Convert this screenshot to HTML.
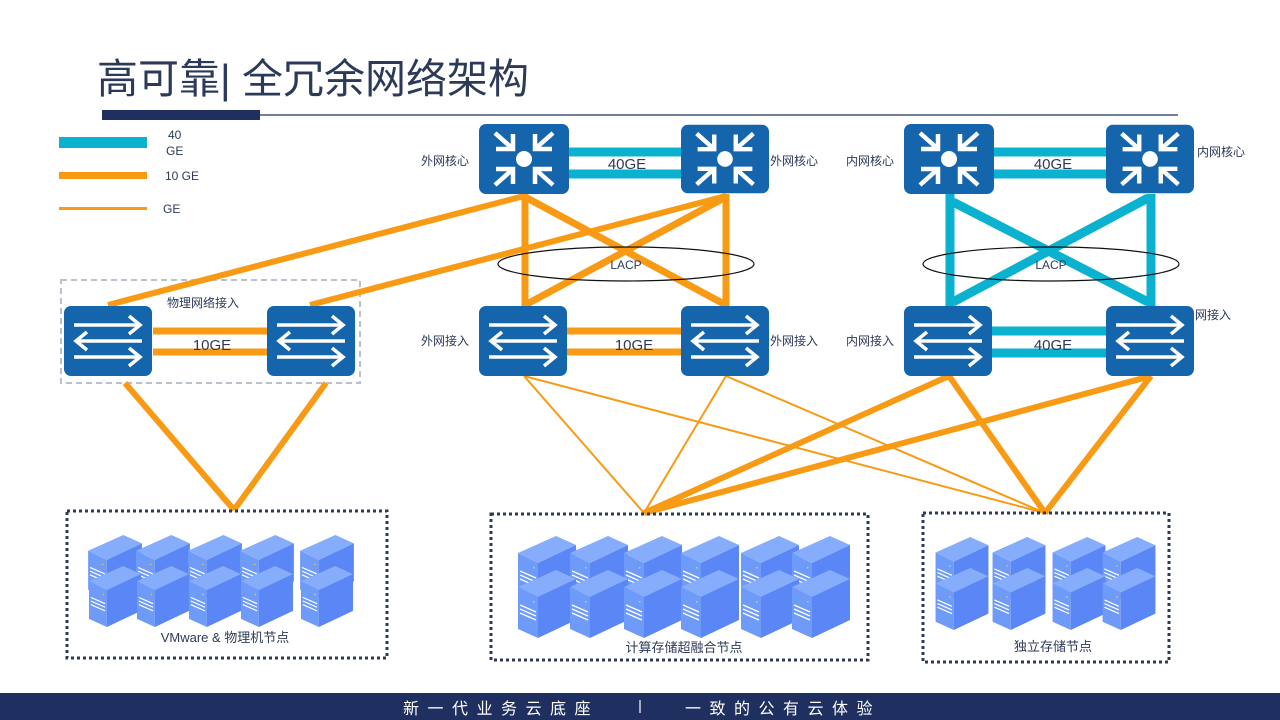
<!DOCTYPE html>
<html><head><meta charset="utf-8"><style>
html,body{margin:0;padding:0;background:#fff;}
svg{display:block;}
text{font-family:"Liberation Sans","Noto Sans CJK SC",sans-serif;}
</style></head><body>
<svg width="1280" height="720" viewBox="0 0 1280 720" xmlns="http://www.w3.org/2000/svg">
<defs>
<symbol id="srv" viewBox="0 0 58 68" width="58" height="68">
  <polygon points="0,17 38,0 58,9 20,27" fill="#86adfb"/>
  <polygon points="0,17 20,27 20,68 0,59" fill="#6f9bf8"/>
  <polygon points="20,27 58,9 58,50 20,68" fill="#5a86f6"/>
  <g stroke="#fff" stroke-width="1.3">
    <line x1="2" y1="35" x2="18" y2="42"/><line x1="2" y1="39" x2="18" y2="46"/><line x1="2" y1="43" x2="18" y2="50"/>
  </g>
  <rect x="15" y="31" width="1.5" height="1.5" fill="#f3c35a"/>
</symbol>
<symbol id="router" viewBox="0 0 90 70" width="90" height="70">
  <rect x="0" y="0" width="90" height="70" rx="7" fill="#1565ad"/>
  <circle cx="45" cy="35" r="8" fill="#fff"/>
  <g stroke="#fff" stroke-width="4.5" fill="none">
    <line x1="16" y1="9" x2="34" y2="25"/><polyline points="17,25 34,25 34,10"/>
    <line x1="74" y1="9" x2="56" y2="25"/><polyline points="73,25 56,25 56,10"/>
    <line x1="16" y1="61" x2="34" y2="45"/><polyline points="17,45 34,45 34,60"/>
    <line x1="74" y1="61" x2="56" y2="45"/><polyline points="73,45 56,45 56,60"/>
  </g>
</symbol>
<symbol id="switch" viewBox="0 0 88 70" width="88" height="70">
  <rect x="0" y="0" width="88" height="70" rx="7" fill="#1565ad"/>
  <g stroke="#fff" stroke-width="3.5" fill="none">
    <line x1="10" y1="19" x2="76" y2="19"/><polyline points="65,10 76,19 65,28"/>
    <line x1="12" y1="35" x2="78" y2="35"/><polyline points="23,26 12,35 23,44"/>
    <line x1="10" y1="51" x2="76" y2="51"/><polyline points="65,42 76,51 65,60"/>
  </g>
</symbol>
</defs>

<!-- title -->
<text x="97" y="93" font-size="41" fill="#2c3a5a">高可靠| 全冗余网络架构</text>
<rect x="102" y="110" width="158" height="10" fill="#1f3060"/>
<line x1="260" y1="115" x2="1178" y2="115" stroke="#1f3060" stroke-width="1.2"/>

<!-- legend -->
<rect x="59" y="137" width="88" height="11" fill="#0bb2d0"/>
<text x="168" y="139" font-size="12" fill="#2c3a5a">40</text>
<text x="166" y="155" font-size="12" fill="#2c3a5a">GE</text>
<rect x="59" y="172" width="88" height="7" fill="#f89a14"/>
<text x="165" y="180" font-size="12" fill="#2c3a5a">10 GE</text>
<rect x="59" y="207" width="88" height="3" fill="#f89a14"/>
<text x="163" y="213" font-size="12" fill="#2c3a5a">GE</text>

<!-- left dashed box -->
<rect x="61" y="280" width="299" height="103" fill="none" stroke="#b9c2cc" stroke-width="2" stroke-dasharray="6,4"/>
<text x="167" y="307" font-size="12" fill="#2c3a5a">物理网络接入</text>

<!-- orange thick links -->
<g stroke="#f89a14" stroke-width="6" stroke-linecap="butt">
  <line x1="524" y1="196" x2="108" y2="305"/>
  <line x1="726" y1="196" x2="310" y2="305"/>
  <line x1="125" y1="383" x2="234" y2="510"/>
  <line x1="326" y1="383" x2="234" y2="510"/>
  <line x1="949" y1="376" x2="644" y2="513"/>
  <line x1="1151" y1="376" x2="644" y2="513"/>
  <line x1="949" y1="376" x2="1045" y2="513"/>
  <line x1="1151" y1="376" x2="1045" y2="513"/>
</g>
<g stroke="#f89a14" stroke-width="7">
  <line x1="525" y1="194" x2="525" y2="306"/>
  <line x1="726" y1="194" x2="726" y2="306"/>
  <line x1="527" y1="198" x2="724" y2="304"/>
  <line x1="724" y1="198" x2="527" y2="304"/>
  <line x1="153" y1="331" x2="267" y2="331"/>
  <line x1="153" y1="352" x2="267" y2="352"/>
  <line x1="567" y1="331" x2="681" y2="331"/>
  <line x1="567" y1="352" x2="681" y2="352"/>
</g>
<g stroke="#f89a14" stroke-width="2">
  <line x1="524" y1="376" x2="644" y2="513"/>
  <line x1="524" y1="376" x2="1045" y2="513"/>
  <line x1="726" y1="376" x2="644" y2="513"/>
  <line x1="726" y1="376" x2="1045" y2="513"/>
</g>

<!-- cyan links -->
<g stroke="#0bb2d0" stroke-width="9">
  <line x1="569" y1="152" x2="681" y2="152"/>
  <line x1="569" y1="174" x2="681" y2="174"/>
  <line x1="994" y1="152" x2="1106" y2="152"/>
  <line x1="994" y1="174" x2="1106" y2="174"/>
  <line x1="992" y1="331" x2="1106" y2="331"/>
  <line x1="992" y1="353" x2="1106" y2="353"/>
  <line x1="950" y1="194" x2="950" y2="306"/>
  <line x1="1151" y1="194" x2="1151" y2="306"/>
  <line x1="953" y1="202" x2="1148" y2="302"/>
  <line x1="1148" y1="198" x2="953" y2="302"/>
</g>

<!-- LACP -->
<ellipse cx="626" cy="264" rx="128" ry="17" fill="none" stroke="#111" stroke-width="1.2"/>
<ellipse cx="1051" cy="264" rx="128" ry="17" fill="none" stroke="#111" stroke-width="1.2"/>
<text x="626" y="269" font-size="12" fill="#2c3a5a" text-anchor="middle">LACP</text>
<text x="1051" y="269" font-size="12" fill="#2c3a5a" text-anchor="middle">LACP</text>

<!-- link labels -->
<g font-size="15" fill="#2c3a5a" text-anchor="middle">
<text x="627" y="169">40GE</text>
<text x="1053" y="169">40GE</text>
<text x="212" y="350">10GE</text>
<text x="634" y="350">10GE</text>
<text x="1053" y="350">40GE</text>
</g>

<!-- devices -->
<use href="#router" x="479" y="124"/>
<use href="#router" x="681" y="124" width="88"/>
<use href="#router" x="904" y="124"/>
<use href="#router" x="1106" y="124" width="88"/>
<use href="#switch" x="64" y="306"/>
<use href="#switch" x="267" y="306"/>
<use href="#switch" x="479" y="306"/>
<use href="#switch" x="681" y="306"/>
<use href="#switch" x="904" y="306"/>
<use href="#switch" x="1106" y="306"/>

<g font-size="12" fill="#2c3a5a">
<text x="421" y="165">外网核心</text>
<text x="770" y="165">外网核心</text>
<text x="846" y="165">内网核心</text>
<text x="1197" y="156">内网核心</text>
<text x="421" y="345">外网接入</text>
<text x="770" y="345">外网接入</text>
<text x="846" y="345">内网接入</text>
<text x="1195" y="319">网接入</text>
</g>

<!-- dotted boxes -->
<g fill="none" stroke="#2c3a5a" stroke-width="3" stroke-dasharray="3,3">
<rect x="67" y="511" width="320" height="147"/>
<rect x="491" y="514" width="377" height="146"/>
<rect x="923" y="513" width="246" height="149"/>
</g>

<!-- servers left -->
<g>
<use href="#srv" x="88" y="535" width="54" height="63"/>
<use href="#srv" x="136" y="535" width="54" height="63"/>
<use href="#srv" x="188" y="535" width="54" height="63"/>
<use href="#srv" x="240" y="535" width="54" height="63"/>
<use href="#srv" x="297" y="535" width="60" height="63"/>
<use href="#srv" x="88" y="566" width="54" height="61"/>
<use href="#srv" x="136" y="566" width="54" height="61"/>
<use href="#srv" x="188" y="566" width="54" height="61"/>
<use href="#srv" x="240" y="566" width="54" height="61"/>
<use href="#srv" x="297" y="566" width="60" height="61"/>
</g>
<text x="225" y="642" font-size="13" fill="#2c3a5a" text-anchor="middle">VMware &amp; 物理机节点</text>

<!-- servers middle -->
<g>
<use href="#srv" x="518" y="536"/><use href="#srv" x="570" y="536"/><use href="#srv" x="624" y="536"/>
<use href="#srv" x="681" y="536"/><use href="#srv" x="741" y="536"/><use href="#srv" x="792" y="536"/>
<use href="#srv" x="518" y="570"/><use href="#srv" x="570" y="570"/><use href="#srv" x="624" y="570"/>
<use href="#srv" x="681" y="570"/><use href="#srv" x="741" y="570"/><use href="#srv" x="792" y="570"/>
</g>
<text x="684" y="652" font-size="13" fill="#2c3a5a" text-anchor="middle">计算存储超融合节点</text>

<!-- servers right -->
<g>
<use href="#srv" x="935" y="537" width="54" height="62"/><use href="#srv" x="992" y="537" width="54" height="62"/>
<use href="#srv" x="1052" y="537" width="54" height="62"/><use href="#srv" x="1102" y="537" width="54" height="62"/>
<use href="#srv" x="935" y="568" width="54" height="62"/><use href="#srv" x="992" y="568" width="54" height="62"/>
<use href="#srv" x="1052" y="568" width="54" height="62"/><use href="#srv" x="1102" y="568" width="54" height="62"/>
</g>
<text x="1053" y="651" font-size="13" fill="#2c3a5a" text-anchor="middle">独立存储节点</text>

<!-- footer -->
<rect x="0" y="693" width="1280" height="27" fill="#1f3060"/>
<text x="403" y="714" font-size="16" fill="#fff" letter-spacing="8.5">新一代业务云底座</text>
<line x1="640" y1="700" x2="640" y2="713" stroke="#fff" stroke-width="1.2"/>
<text x="685" y="714" font-size="16" fill="#fff" letter-spacing="8.5">一致的公有云体验</text>
</svg>
</body></html>
